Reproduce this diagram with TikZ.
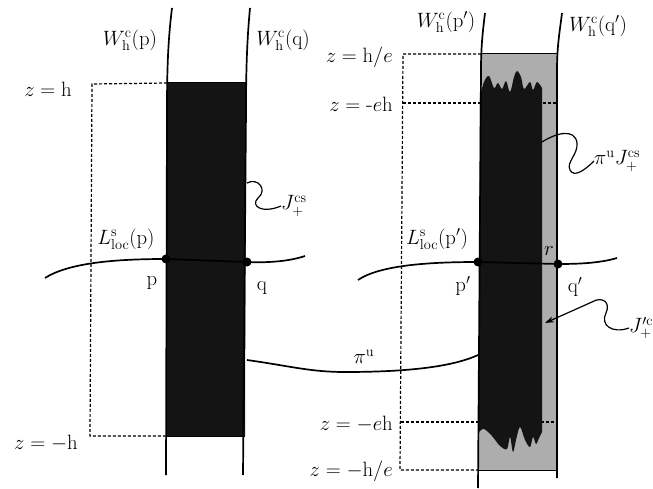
\documentclass[tikz,border=0pt]{standalone}
\usetikzlibrary{arrows.meta}
\begin{document}
\begin{tikzpicture}[x=1pt,y=-1pt,
  lbl/.style={font=\fontsize{22}{25}\selectfont, inner sep=0pt},
  strand/.style={line width=1.7pt},
  lcurve/.style={line width=1.7pt},
  dashln/.style={line width=1.2pt, dash pattern=on 3pt off 2pt},
  squig/.style={line width=1.2pt},
  dotnode/.style={circle, fill=black, inner sep=0pt, minimum size=9pt},
  darkfill/.style={fill=black!92},
  lightfill/.style={fill=black!32}]
\useasboundingbox (0,0) rectangle (653,489);

% ---------------- left block ----------------
\coordinate (LT1) at (167,83);
\coordinate (LT2) at (246,83);
\coordinate (LB1) at (166,436);
\coordinate (LB2) at (245,436);
\coordinate (LD1) at (92,84);
\coordinate (LD2) at (90,436);
\fill[darkfill] (LT1) -- (LT2) -- (LB2) -- (LB1) -- cycle;
\draw[line width=1pt] (LT1) -- (LT2);
\draw[line width=1pt] (LB1) -- (LB2);
\draw[dashln] (LT1) -- (LD1) -- (LD2) -- (LB1);

% strands
\coordinate (Wpt) at (172,8);
\coordinate (Wpb) at (166,475);
\coordinate (Wqt) at (250,8);
\coordinate (Wqb) at (243,475);
\draw[strand] (Wpt) .. controls (168,40) and (167,70) .. (167,110) -- (Wpb);
\draw[strand] (Wqt) .. controls (247,40) and (246,70) .. (246,110) -- (Wqb);

% L curve
\node[dotnode] (p) at (166,259) {};
\node[dotnode] (q) at (247,262) {};
\coordinate (La) at (45,278);
\coordinate (Lb) at (305,256);
\draw[lcurve] (La) .. controls (70,262) and (120,259) .. (p.center) -- (q.center) .. controls (270,263) and (290,261) .. (Lb);

% labels left
\node[lbl] (Wpl) at (130,40) {$W^{\mathrm{c}}_{\mathrm{h}}(\mathrm{p})$};
\node[lbl] (Wql) at (283,40) {$W^{\mathrm{c}}_{\mathrm{h}}(\mathrm{q})$};
\node[lbl] (zh) at (48,89) {$z=\mathrm{h}$};
\node[lbl] (zmh) at (46,443) {$z=-\mathrm{h}$};
\node[lbl] (Lp) at (126,239) {$L^{\mathrm{s}}_{\mathrm{loc}}(\mathrm{p})$};
\node[lbl] (pl) at (152,283) {$\mathrm{p}$};
\node[lbl] (ql) at (262,288) {$\mathrm{q}$};
\node[lbl, anchor=west] (Jl) at (281,206) {$J^{\mathrm{cs}}_{+}$};
\coordinate (Jla) at (247,183);
\draw[squig] (Jla) .. controls (258,177) and (268,190) .. (258,198) .. controls (250,206) and (262,214) .. (Jl.west);

% ---------------- right block ----------------
\coordinate (RT1) at (481,54);
\coordinate (RT2) at (557,54);
\coordinate (RB1) at (478,470);
\coordinate (RB2) at (557,470);
\fill[lightfill] (RT1) -- (RT2) -- (RB2) -- (RB1) -- cycle;
\draw[line width=1pt] (RT1) -- (RT2);
\draw[line width=1pt] (RB1) -- (RB2);
\coordinate (RD1) at (403,54);
\coordinate (RD2) at (400,470);
\coordinate (RE1) at (403,103);
\coordinate (RE2) at (557,103);
\coordinate (RF1) at (401,422);
\coordinate (RF2) at (557,422);
\draw[dashln] (RT1) -- (RD1) -- (RD2) -- (RB1);
\draw[dashln] (RE1) -- (RE2);
\draw[dashln] (RF1) -- (RF2);

% black irregular region
\fill[darkfill] plot[smooth, tension=0.55] coordinates {(480,96) (484,82) (489,76) (494,88) (498,83) (502,89) (506,81) (510,92) (514,77) (517,71) (521,77) (524,89) (530,82) (533,90) (537,82) (542,88)}
  -- (542,432)
  -- plot[smooth, tension=0.55] coordinates {(542,432) (539,438) (536,444) (533,437) (530,447) (525,440) (520,427) (516,440) (513,452) (510,437) (507,449) (500,446) (492,436) (484,429) (479,432)}
  -- cycle;

% strands
\coordinate (Wp2t) at (485,13);
\coordinate (Wp2b) at (478,488);
\coordinate (Wq2t) at (562,13);
\coordinate (Wq2b) at (557,478);
\draw[strand] (Wp2t) .. controls (483,30) and (481,45) .. (481,70) -- (Wp2b);
\draw[strand] (Wq2t) .. controls (560,30) and (557,45) .. (557,70) -- (Wq2b);

% L' curve
\node[dotnode] (pp) at (478,262) {};
\node[dotnode] (qq) at (558,264) {};
\coordinate (Lc) at (358,280);
\coordinate (Ld) at (617,258);
\draw[lcurve] (Lc) .. controls (380,265) and (430,262) .. (pp.center) -- (qq.center) .. controls (580,264) and (600,263) .. (Ld);

% pi^u curve
\coordinate (Pa) at (247,360);
\coordinate (Pb) at (478,355);
\draw[lcurve] (Pa) .. controls (290,366) and (310,372) .. (345,372) .. controls (400,372) and (450,368) .. (Pb);

% labels right
\node[lbl] (Wp2l) at (446,22) {$W^{\mathrm{c}}_{\mathrm{h}}(\mathrm{p}')$};
\node[lbl] (Wq2l) at (598,26) {$W^{\mathrm{c}}_{\mathrm{h}}(\mathrm{q}')$};
\node[lbl, anchor=east] (zhe) at (393,57) {$z=\mathrm{h}/e$};
\node[lbl, anchor=east] (zeh) at (393,104) {$z=\mbox{-}e\mathrm{h}$};
\node[lbl, anchor=east] (zmeh) at (393,424) {$z=-e\mathrm{h}$};
\node[lbl, anchor=east] (zmhe) at (393,471) {$z=-\mathrm{h}/e$};
\node[lbl] (Lpp) at (437,239) {$L^{\mathrm{s}}_{\mathrm{loc}}(\mathrm{p}')$};
\node[lbl] (rl) at (549,251) {$r$};
\node[lbl] (ppl) at (463,286) {$\mathrm{p}'$};
\node[lbl] (qql) at (575,287) {$\mathrm{q}'$};
\node[lbl] (pil) at (364,357) {$\pi^{\mathrm{u}}$};
\node[lbl, anchor=west] (PJl) at (594,161) {$\pi^{\mathrm{u}}J^{\mathrm{cs}}_{+}$};
\coordinate (PJa) at (542,142);
\draw[squig] (PJa) .. controls (556,133) and (575,128) .. (577,143) .. controls (578,155) and (566,162) .. (570,170) .. controls (574,178) and (585,170) .. (PJl.west);
\node[lbl, anchor=west] (Jcl) at (629,328) {$J'^{\mathrm{c}}_{+}$};
\coordinate (Jca) at (545,323);
\draw[squig, -{Stealth[length=9pt,width=6pt]}] (Jcl.west) .. controls (612,334) and (600,325) .. (606,313) .. controls (611,302) and (602,296) .. (592,302) -- (Jca);
\end{tikzpicture}
\end{document}
